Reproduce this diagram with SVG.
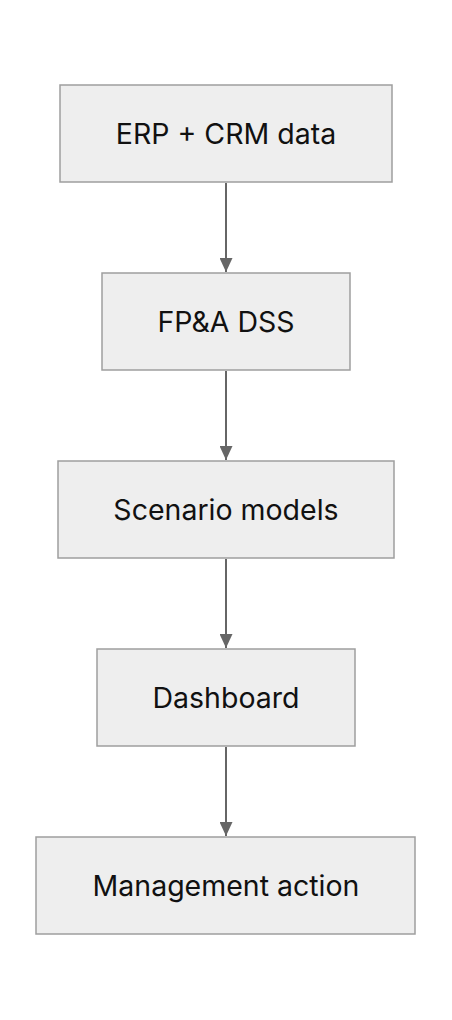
<svg xmlns="http://www.w3.org/2000/svg" width="452" height="1020" viewBox="0 0 452 1020">
<defs>
<style>
.box{fill:#eeeeee;stroke:#9e9e9e;stroke-width:1.5}
.lbl{font-family:Inter,"Noto Sans",sans-serif;font-size:28.5px;fill:#111;text-anchor:middle}
.edge{stroke:#666;stroke-width:2;fill:none;marker-end:url(#arr)}
</style>
<marker id="arr" viewBox="0 0 14 13" refX="14" refY="6.5" markerWidth="14" markerHeight="13" markerUnits="userSpaceOnUse" orient="auto">
<path d="M0,0 L14,6.5 L0,13 Z" fill="#666"/>
</marker>
</defs>
<rect width="452" height="1020" fill="#ffffff"/>
<g id="connectors">
<line class="edge" x1="226" y1="183" x2="226" y2="272"/>
<line class="edge" x1="226" y1="371" x2="226" y2="460"/>
<line class="edge" x1="226" y1="559" x2="226" y2="648"/>
<line class="edge" x1="226" y1="747" x2="226" y2="836"/>
</g>
<g id="erp">
<rect class="box" x="60" y="85" width="332" height="97"/>
<text class="lbl" x="226" y="144">ERP + CRM data</text>
</g>
<g id="fpa">
<rect class="box" x="102" y="273" width="248" height="97"/>
<text class="lbl" x="226" y="332">FP&amp;A DSS</text>
</g>
<g id="scenario">
<rect class="box" x="58" y="461" width="336" height="97"/>
<text class="lbl" x="226" y="520">Scenario models</text>
</g>
<g id="dashboard">
<rect class="box" x="97" y="649" width="258" height="97"/>
<text class="lbl" x="226" y="708">Dashboard</text>
</g>
<g id="management">
<rect class="box" x="36" y="837" width="379" height="97"/>
<text class="lbl" x="226" y="896">Management action</text>
</g>
</svg>
